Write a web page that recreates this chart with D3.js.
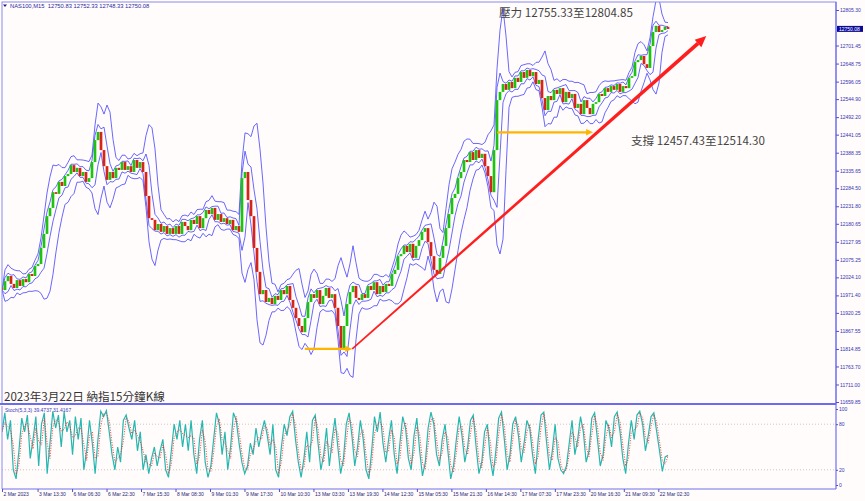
<!DOCTYPE html>
<html><head><meta charset="utf-8">
<script src="https://cdn.jsdelivr.net/npm/d3@7"></script>
<style>body{margin:0;background:#fff}svg{display:block}</style>
</head><body>
<script>
// ---------- data ----------
const closes = [11987,12013,12028,12005,11993,12016,11999,12019,12010,12034,
12028,12057,12063,12110,12151,12203,12227,12273,12268,12303,
12291,12320,12326,12352,12332,12344,12320,12332,12303,12314,
12361,12425,12449,12396,12349,12309,12332,12314,12344,12338,
12361,12338,12349,12332,12367,12344,12361,12332,12262,12197,
12192,12162,12180,12157,12174,12151,12168,12151,12174,12151,
12186,12174,12162,12192,12180,12203,12168,12197,12221,12209,
12227,12192,12209,12186,12197,12180,12192,12162,12174,12157,
12314,12332,12250,12203,12110,12040,11975,11987,11952,11964,
11946,11970,11958,11987,11975,11999,11958,11935,11905,11882,
11864,11905,11952,11975,11964,11987,11946,11970,11993,11964,
11975,11935,11882,11812,11882,11946,11981,11999,11964,11958,
11975,11964,11999,11987,12010,11975,11999,11981,12005,11999,
12034,12046,12086,12092,12116,12098,12122,12081,12116,12133,
12157,12168,12127,12086,12046,12034,12081,12116,12168,12209,
12256,12268,12314,12332,12367,12361,12390,12367,12396,12373,
12385,12349,12320,12273,12396,12542,12566,12589,12572,12595,
12577,12607,12595,12624,12607,12630,12612,12624,12589,12601,
12548,12513,12554,12542,12572,12560,12577,12536,12566,12548,
12560,12519,12531,12501,12542,12519,12501,12531,12536,12560,
12554,12577,12566,12583,12572,12589,12566,12583,12577,12607,
12612,12653,12659,12671,12647,12636,12700,12741,12759,12741,
12747,12756,12750];
const firstOpen = 11995;

const stochK = [70,95,60,85,20,8,45,88,70,92,
35,60,90,25,80,95,15,55,97,75,
92,50,96,70,85,40,90,60,88,20,
45,85,55,15,60,97,90,98,70,40,
20,50,30,85,92,75,60,85,45,70,
20,40,15,35,50,25,45,60,20,10,
45,80,60,85,50,80,45,85,40,15,
60,85,30,10,25,60,95,80,40,70,
20,50,95,85,55,30,15,25,55,40,
75,50,70,85,65,40,80,20,10,50,
80,65,90,97,60,30,10,35,70,30,
85,92,55,20,40,75,25,60,88,50,
15,35,80,95,65,25,50,85,60,20,
8,45,90,70,96,55,30,60,85,40,
15,55,90,75,35,20,65,88,45,12,
30,75,96,80,40,25,60,80,45,8,
25,60,90,65,30,50,85,92,50,15,
30,70,80,35,12,45,88,96,60,20,
40,80,90,65,30,55,85,75,40,15,
60,92,96,55,20,45,80,35,20,15,
25,55,85,40,60,90,70,30,45,88,
95,60,25,40,85,75,50,90,96,70,
35,15,55,85,60,92,97,80,45,65,
90,95,70,45,18,37,39];

const priceTicks = [12805.30,12701.45,12648.75,12596.05,12544.90,12492.20,12441.05,12388.35,12335.65,12284.50,12231.80,12180.65,12127.95,12075.25,12024.10,11971.40,11920.25,11867.55,11814.85,11763.70,11711.00,11659.85];
const lastPrice = 12750.08;
const stochTicks = [100,80,20,0];
const stochLevels = [80,20];
const timeLabels = ["2 Mar 2023","3 Mar 13:30","6 Mar 06:30","6 Mar 22:30","7 Mar 15:30","8 Mar 08:30","9 Mar 01:30","9 Mar 17:30","10 Mar 10:30","13 Mar 03:30","13 Mar 19:30","14 Mar 12:30","15 Mar 05:30","15 Mar 21:30","16 Mar 14:30","17 Mar 07:30","17 Mar 23:30","20 Mar 16:30","21 Mar 09:30","22 Mar 02:30"];
const timeBars = [0,66,130,194,258,322,386,450,514,578,642,706,770,834,898,962,1026,1090,1154,1218];
const totalBars = 1236;
const supportLines = [{from:562,to:650,price:11815},{from:919,to:1097,price:12448}];
const trendLine = {from:650, fromPrice:11815, to:1307, toPrice:12729};
const headerText = "NAS100,M15  12750.83 12752.33 12748.33 12750.08";
const stochText = "Stoch(5,3,3) 39.4737 31.4167";
const titleText = "2023年3月22日 納指15分鐘K線";
const resistText = "壓力 12755.33至12804.85";
const supportText = "支撐 12457.43至12514.30";

// ---------- layout ----------
const W = 865, H = 501;
const L = 2, R = 836, mainTop = 2, mainBot = 404, subTop = 406, subBot = 489;
const svg = d3.select("body").append("svg").attr("width", W).attr("height", H)
  .style("font-family", "'Liberation Sans', Arial, sans-serif");
svg.append("rect").attr("width", W).attr("height", H).attr("fill", "#fffcfb");

const x = d3.scaleLinear().domain([0, totalBars]).range([2, 668]);
const y = d3.scaleLinear().domain([11659.85, 12805.30]).range([402, 10]);
const ys = d3.scaleLinear().domain([0, 100]).range([485, 409]);

const defs = svg.append("defs");
defs.append("clipPath").attr("id", "cm").append("rect").attr("x", L).attr("y", mainTop).attr("width", R - L).attr("height", mainBot - mainTop);
defs.append("clipPath").attr("id", "cs").append("rect").attr("x", L).attr("y", subTop).attr("width", R - L).attr("height", subBot - subTop);

const N = closes.length;
const barOf = i => i * totalBars / (N - 1);
const candles = closes.map((c, i) => ({bar: barOf(i), open: i ? closes[i - 1] : firstOpen, close: c}));

function bands(period, dev) {
  return closes.map((c, i) => {
    const w = closes.slice(Math.max(0, i - period + 1), i + 1);
    const m = d3.mean(w), s = w.length > 1 ? d3.deviation(w) : 0;
    return {bar: barOf(i), up: m + dev * s, lo: m - dev * s};
  });
}
const outer = bands(5, 2.5), inner = bands(3, 1.3);

const main = svg.append("g").attr("clip-path", "url(#cm)");
const lineUp = d3.line().x(d => x(d.bar)).y(d => y(d.up));
const lineLo = d3.line().x(d => x(d.bar)).y(d => y(d.lo));
[outer, inner].forEach(b => {
  main.append("path").attr("d", lineUp(b)).attr("fill", "none").attr("stroke", "#4343ff").attr("stroke-width", 1).attr("opacity", 0.8);
  main.append("path").attr("d", lineLo(b)).attr("fill", "none").attr("stroke", "#4343ff").attr("stroke-width", 1).attr("opacity", 0.8);
});

const cw = (x(barOf(1)) - x(0)) * 0.9;
main.selectAll("rect.c").data(candles).join("rect").attr("class", "c")
  .attr("x", d => x(d.bar) - cw / 2)
  .attr("y", d => y(Math.max(d.open, d.close)))
  .attr("width", cw)
  .attr("height", d => Math.max(1, Math.abs(y(d.open) - y(d.close))))
  .attr("fill", d => d.close >= d.open ? "#14d814" : "#ee1c1c");
main.selectAll("line.w").data(candles).join("line").attr("class", "w")
  .attr("x1", d => x(d.bar)).attr("x2", d => x(d.bar))
  .attr("y1", d => y(Math.max(d.open, d.close))).attr("y2", d => y(Math.min(d.open, d.close)))
  .attr("stroke", "#5a5a10").attr("stroke-width", 0.6).attr("opacity", 0.6);

// support arrows (orange)
supportLines.forEach(s => {
  const x1 = x(s.from), x2 = x(s.to), yy = y(s.price);
  main.append("line").attr("x1", x1).attr("x2", x2 - 5).attr("y1", yy).attr("y2", yy)
    .attr("stroke", "#ffb400").attr("stroke-width", 2.2);
  main.append("path").attr("d", `M${x2},${yy} L${x2 - 7},${yy - 3.2} L${x2 - 7},${yy + 3.2} Z`).attr("fill", "#ffb400");
});

// trend arrow (red, tapered)
{
  const x1 = x(trendLine.from), y1 = y(trendLine.fromPrice), x2 = x(trendLine.to), y2 = y(trendLine.toPrice);
  const dx = x2 - x1, dy = y2 - y1, len = Math.hypot(dx, dy), ux = dx / len, uy = dy / len, nx = -uy, ny = ux;
  const hx = x2 - ux * 11, hy = y2 - uy * 11;
  const w0 = 0.8, w1 = 1.9;
  main.append("path").attr("d",
    `M${x1 + nx * w0},${y1 + ny * w0} L${hx + nx * w1},${hy + ny * w1} L${hx - nx * w1},${hy - ny * w1} L${x1 - nx * w0},${y1 - ny * w0} Z`)
    .attr("fill", "#ff1e1e");
  main.append("path").attr("d",
    `M${x2},${y2} L${hx + nx * 5},${hy + ny * 5} L${hx - nx * 5},${hy - ny * 5} Z`).attr("fill", "#ff1e1e");
}

// stochastic
const M = stochK.length;
const sbar = j => j * totalBars / (M - 1);
const kData = stochK.map((v, j) => ({bar: sbar(j), v}));
const dData = stochK.map((v, j) => ({bar: sbar(j), v: d3.mean(stochK.slice(Math.max(0, j - 1), j + 1))}));
const sub = svg.append("g").attr("clip-path", "url(#cs)");
stochLevels.forEach(l => sub.append("line").attr("x1", L).attr("x2", R).attr("y1", ys(l)).attr("y2", ys(l))
  .attr("stroke", "#c8c8c8").attr("stroke-width", 1).attr("stroke-dasharray", "1,2"));
const sl = d3.line().x(d => x(d.bar)).y(d => ys(d.v));
sub.append("path").attr("d", sl(kData)).attr("fill", "none").attr("stroke", "#26b8b0").attr("stroke-width", 1.2);
sub.append("path").attr("d", sl(dData)).attr("fill", "none").attr("stroke", "#ff2020").attr("stroke-width", 0.9).attr("stroke-dasharray", "1,1.5");

// frames
svg.append("rect").attr("x", L).attr("y", mainTop).attr("width", R - L).attr("height", mainBot - mainTop)
  .attr("fill", "none").attr("stroke", "#8a8af2").attr("stroke-width", 1);
svg.append("line").attr("x1", 0).attr("x2", R).attr("y1", mainBot).attr("y2", mainBot).attr("stroke", "#6a6af5").attr("stroke-width", 2);
svg.append("line").attr("x1", L).attr("x2", L).attr("y1", subTop).attr("y2", subBot).attr("stroke", "#8a8af2");
svg.append("line").attr("x1", R).attr("x2", R).attr("y1", mainTop).attr("y2", subBot).attr("stroke", "#7070f0").attr("stroke-width", 1.2);
svg.append("line").attr("x1", L).attr("x2", R).attr("y1", subBot).attr("y2", subBot).attr("stroke", "#7070f0").attr("stroke-width", 1.2);

// price axis
const ay = svg.append("g").attr("transform", `translate(${R},0)`)
  .call(d3.axisRight(y).tickValues(priceTicks).tickSize(3).tickPadding(1).tickFormat(d3.format(".2f")));
ay.select(".domain").remove();
ay.selectAll("line").attr("stroke", "#5050c8");
ay.selectAll("text").attr("font-size", 5).attr("fill", "#3434b4").attr("font-family", "'Liberation Sans', Arial, sans-serif");

// last price label
svg.append("rect").attr("x", R + 1).attr("y", y(lastPrice) - 3).attr("width", 26).attr("height", 6).attr("fill", "#0a0a96");
svg.append("text").attr("x", R + 3).attr("y", y(lastPrice)).attr("dy", "0.35em").attr("font-size", 5).attr("fill", "#fff").text(d3.format(".2f")(lastPrice));

// stoch axis
const as = svg.append("g").attr("transform", `translate(${R},0)`)
  .call(d3.axisRight(ys).tickValues(stochTicks).tickSize(2).tickPadding(1));
as.select(".domain").remove();
as.selectAll("line").attr("stroke", "#5050c8");
as.selectAll("text").attr("font-size", 5).attr("fill", "#3434b4").attr("font-family", "'Liberation Sans', Arial, sans-serif");

// time axis
const ax = svg.append("g").attr("transform", `translate(0,${subBot})`)
  .call(d3.axisBottom(x).tickValues(timeBars).tickSize(3).tickFormat((d, i) => timeLabels[i]));
ax.select(".domain").remove();
ax.selectAll("line").attr("stroke", "#5050c8");
ax.selectAll("text").attr("font-size", 5).attr("fill", "#26267a").attr("text-anchor", "start")
  .attr("dx", 1).attr("dy", "0.2em").attr("font-family", "'Liberation Sans', Arial, sans-serif");

// texts
svg.append("path").attr("d", "M3,4.5 L7,4.5 L5,7 Z").attr("fill", "#1a1a8c");
svg.append("text").attr("x", 10).attr("y", 7.8).attr("font-size", 5.8).attr("fill", "#2a2aa0")
  .attr("xml:space", "preserve").style("white-space", "pre").text(headerText);
svg.append("text").attr("x", 5).attr("y", 412).attr("font-size", 5).attr("fill", "#3a3ac0").text(stochText);

const cjk = "'Noto Sans CJK TC','Noto Sans CJK SC',sans-serif";
svg.append("text").attr("x", 4).attr("y", 400.5).attr("font-size", 11.6).attr("fill", "#333").attr("font-family", cjk).text(titleText);
svg.append("text").attr("x", 499).attr("y", 16.5).attr("font-size", 11.6).attr("fill", "#444").attr("font-family", cjk).text(resistText);
svg.append("text").attr("x", 631).attr("y", 145).attr("font-size", 11.6).attr("fill", "#444").attr("font-family", cjk).text(supportText);
</script>
</body></html>
